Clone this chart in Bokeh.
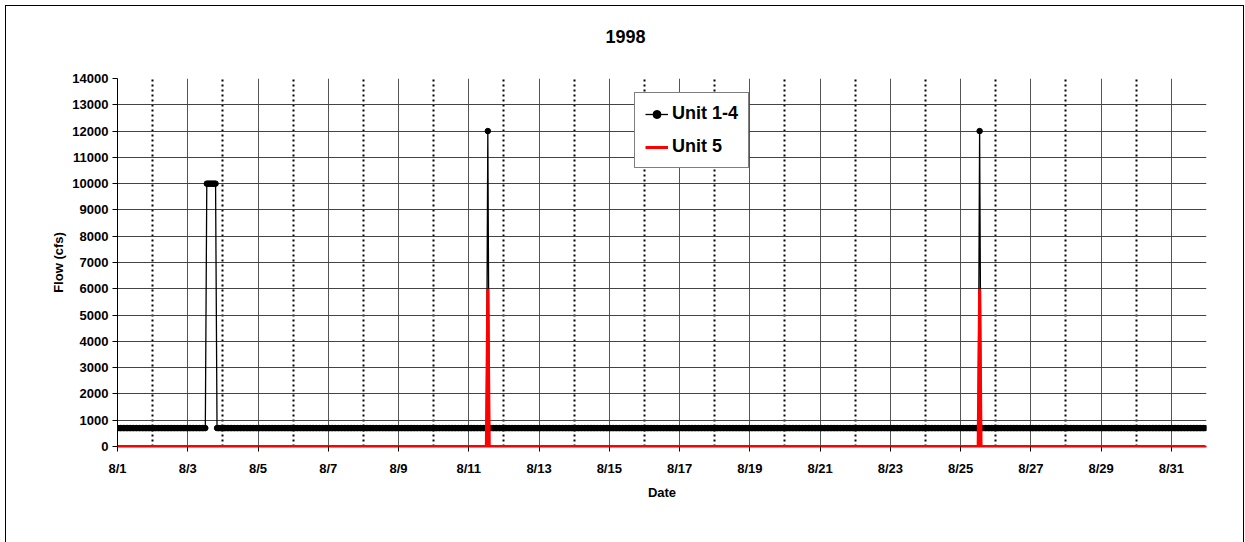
from bokeh.plotting import figure
from bokeh.models import Range1d, FixedTicker, Legend, LegendItem, Title
from bokeh.embed import file_html
from bokeh.resources import INLINE

# ---- data (hourly readings, run-length encoded) ----
# x in hours since 8/1 00:00
unit14_runs = [  # (first hour, last hour, flow cfs)
    (0, 60, 700),
    (61, 67, 10000),
    (68, 252, 700),
    (253, 253, 12000),
    (254, 588, 700),
    (589, 589, 12000),
    (590, 743, 700),
]
unit5_runs = [
    (0, 252, 0),
    (253, 253, 6000),
    (254, 588, 0),
    (589, 589, 6000),
    (590, 743, 0),
]
x_tick_days = [0, 2, 4, 6, 8, 10, 12, 14, 16, 18, 20, 22, 24, 26, 28, 30]
x_tick_labels = ["8/1", "8/3", "8/5", "8/7", "8/9", "8/11", "8/13", "8/15",
                 "8/17", "8/19", "8/21", "8/23", "8/25", "8/27", "8/29", "8/31"]
x_minor_days = [1, 3, 5, 7, 9, 11, 13, 15, 17, 19, 21, 23, 25, 27, 29, 31]
y_ticks = [0, 1000, 2000, 3000, 4000, 5000, 6000, 7000, 8000, 9000, 10000,
           11000, 12000, 13000, 14000]


def expand(runs):
    xs, ys = [], []
    for a, b, v in runs:
        for h in range(a, b + 1):
            xs.append(h / 24.0)
            ys.append(v)
    return xs, ys


u14_x, u14_y = expand(unit14_runs)
u5_x, u5_y = expand(unit5_runs)

FONT = "Liberation Sans"

p = figure(width=1239, height=537, x_range=Range1d(0, 31), y_range=Range1d(0, 14000),
           output_backend="svg", toolbar_location=None,
           min_border_left=111, min_border_right=39, min_border_top=72, min_border_bottom=97)
p.styles = {"margin-left": "5px", "margin-top": "5px",
            "border-left": "1px solid #000", "border-top": "1px solid #000",
            "border-right": "1px solid #000"}
p.outline_line_color = None
p.background_fill_color = "white"
p.border_fill_color = "white"

# title
p.title.text = "1998"
p.title.align = "left"
p.title.offset = 488
p.title.text_font = FONT
p.title.text_font_style = "bold"
p.title.text_font_size = "18px"
p.title.text_color = "black"
# spacer between title and plot frame
p.add_layout(Title(text=" ", text_font_size="17px"), "above")

# axes
p.xaxis.ticker = FixedTicker(ticks=x_tick_days, minor_ticks=x_minor_days)
p.xaxis.major_label_overrides = {d: l for d, l in zip(x_tick_days, x_tick_labels)}
p.yaxis.ticker = FixedTicker(ticks=y_ticks)
p.yaxis.major_label_overrides = {v: str(v) for v in y_ticks}
for ax in (p.xaxis[0], p.yaxis[0]):
    ax.axis_line_color = "black"
    ax.axis_line_width = 1
    ax.major_tick_line_color = "black"
    ax.major_tick_in = 0
    ax.major_tick_out = 5
    ax.minor_tick_line_color = None
    ax.major_label_text_font = FONT
    ax.major_label_text_font_style = "bold"
    ax.major_label_text_font_size = "13px"
    ax.major_label_text_color = "black"
    ax.axis_label_text_font = FONT
    ax.axis_label_text_font_style = "bold"
    ax.axis_label_text_font_size = "13px"
    ax.axis_label_text_color = "black"
p.xaxis.axis_label = "Date"
p.yaxis.axis_label = "Flow (cfs)"
p.xaxis.major_label_standoff = 9
p.xaxis.axis_label_standoff = 6
p.yaxis.major_label_standoff = 4
p.yaxis.axis_label_standoff = 3
# the Unit 5 series (at 0) covers the x-axis line in the original
p.xaxis.axis_line_color = "red"
p.xaxis.axis_line_width = 2

# grids
p.xgrid.grid_line_color = "#555555"
p.xgrid.grid_line_width = 1
p.xgrid.minor_grid_line_color = "black"
p.xgrid.minor_grid_line_width = 2
p.xgrid.minor_grid_line_dash = "2 3"
p.ygrid.grid_line_color = "#444444"
p.ygrid.grid_line_width = 1

# series
l14 = p.line(u14_x, u14_y, line_color="black", line_width=1.3)
s14 = p.scatter(u14_x, u14_y, size=5.5, fill_color="black", line_color="black")
l5 = p.line(u5_x, u5_y, line_color="red", line_width=3)

legend = Legend(items=[LegendItem(label="Unit 1-4", renderers=[l14, s14]),
                       LegendItem(label="Unit 5", renderers=[l5])],
                location=(517, 278))
legend.label_text_font = FONT
legend.label_text_font_style = "bold"
legend.label_text_font_size = "18px"
legend.label_text_color = "black"
legend.border_line_color = "black"
legend.border_line_width = 1
legend.background_fill_color = "white"
legend.background_fill_alpha = 1
legend.padding = 10
legend.spacing = 12
legend.glyph_width = 23
legend.glyph_height = 20
legend.label_height = 20
legend.label_standoff = 4
legend.margin = 0
p.add_layout(legend)

open("out.html", "w").write(file_html(p, INLINE))
